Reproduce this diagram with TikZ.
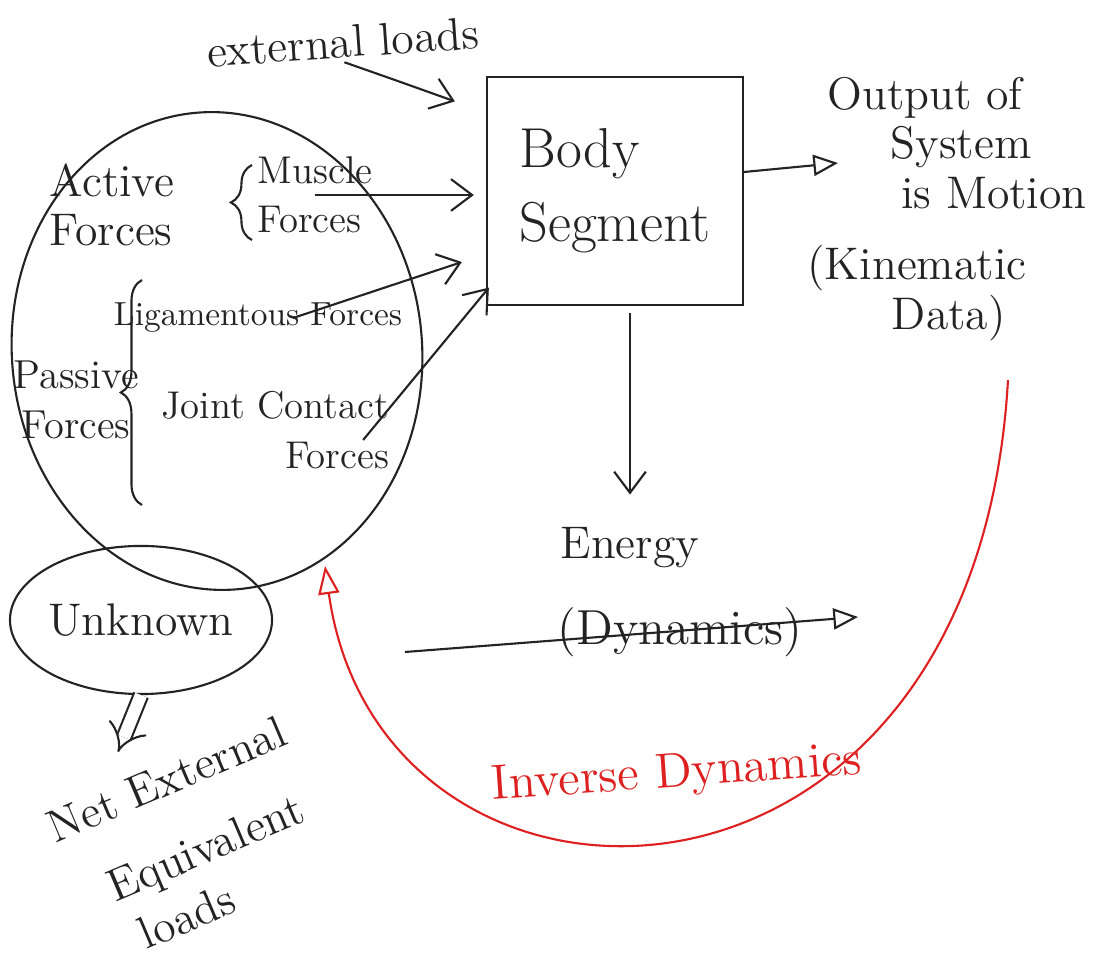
\documentclass[tikz,border=0pt]{standalone}
\usetikzlibrary{positioning,arrows.meta,shapes.geometric,decorations.pathreplacing}
\definecolor{InkGray}{RGB}{35,35,35}
\definecolor{InkRed}{RGB}{222,32,32}

\begin{document}
\begin{tikzpicture}[x=0.01cm, y=-0.01cm,
hand/.style={font=\fontsize{13}{14}\selectfont, text=InkGray, align=center, inner sep=1pt},
inner/.style={font=\fontsize{11}{14}\selectfont, text=InkGray, align=center, inner sep=1pt},
ring/.style={draw=InkGray, semithick, ellipse},
line/.style={draw=InkGray, semithick, -{Straight Barb[length=6pt,width=9pt]}},
tri/.style={draw=InkGray, semithick, -{Triangle[open,length=7pt,width=6pt]}},
brc/.style={draw=InkGray, semithick, decorate, decoration={brace, amplitude=6pt}}]
\fill[white] (0,0) rectangle (1099,960);
% nodes
\node[hand, rotate=4] (ext) at (343,42) {external loads};
\node[draw=InkGray, semithick, minimum width=2.56cm, minimum height=2.27cm,
font=\fontsize{16}{21}\selectfont, text=InkGray, align=left] (seg) at (615,191) {Body\\Segment};
\node[hand, align=left] (out) at (957,143) {Output of\\\hspace{18pt}System\\\hspace{21pt}is Motion};
\node[hand, align=left] (kin) at (917,293) {(Kinematic\\\hspace{24pt}Data)};
\node[hand] (energy) at (630,548) {Energy};
\node[hand, font=\fontsize{14}{16}\selectfont] (dyn) at (680,632) {(Dynamics)};
\node[ring, minimum width=4.1cm, minimum height=4.78cm, rotate=5] (forces) at (217,351) {};
\node[hand, align=left] (act) at (112,205) {Active\\Forces};
\node[inner, align=left] (mus) at (315,195) {Muscle\\Forces};
\node[inner, font=\fontsize{9.5}{12}\selectfont] (lig) at (258,318) {Ligamentous Forces};
\node[hand, font=\fontsize{11.5}{14}\selectfont] (pas) at (76,400) {Passive\\Forces};
\node[inner, align=right] (joint) at (275,430) {Joint Contact\\Forces};
\node[ring, hand, inner sep=0pt, minimum width=2.53cm, minimum height=1.48cm] (unk) at (141,620) {Unknown};
\node[hand, font=\fontsize{13}{22}\selectfont, rotate=23, anchor=north west, align=left] (net) at (38,812)
{Net External\\\hspace{9pt}Equivalent\\[-6pt]\hspace{12pt}loads};
\node[font=\fontsize{14}{16}\selectfont, text=InkRed, rotate=4] (inv) at (677,775) {Inverse Dynamics};
\coordinate (outtip) at (838,163);
\coordinate (dynL) at (405,652);
\coordinate (dynR) at (858,617);
\coordinate (redS) at (1008,380);
\coordinate (redE) at (325,566);
\coordinate (nettip) at (118,752);
% braces
\draw[brc] (252,240) -- (252,165);
\draw[brc] (142,505) -- (142,280);
% connectors
\draw[line] (ext.south) .. controls (395,80) .. ([shift={(-0.31cm,-0.25cm)}]seg.north west);
\draw[line, shorten >=0.12cm] (mus.center) -- (mus.center -| seg.west);
\draw[line] ([xshift=0.35cm]lig.center) -- ([shift={(-0.24cm,-0.71cm)}]seg.west);
\draw[line] ([shift={(-0.3cm,-0.1cm)}]joint.east) -- ([shift={(0.03cm,0.18cm)}]seg.south west);
\draw[tri] ([yshift=0.19cm]seg.east) -- (outtip);
\draw[line, shorten <=0.07cm, shorten >=0.29cm] (seg.south -| energy) -- (energy);
\draw[tri] (dynL) -- (dynR);
\draw[draw=InkGray, semithick, double, double distance=3.5pt, -{Implies}] (unk.south) -- (nettip);
\draw[InkRed, semithick, -{Triangle[open,length=8pt,width=6pt]}] (redS) .. controls (975,960) and (380,960) .. (redE);
\end{tikzpicture}
\end{document}
